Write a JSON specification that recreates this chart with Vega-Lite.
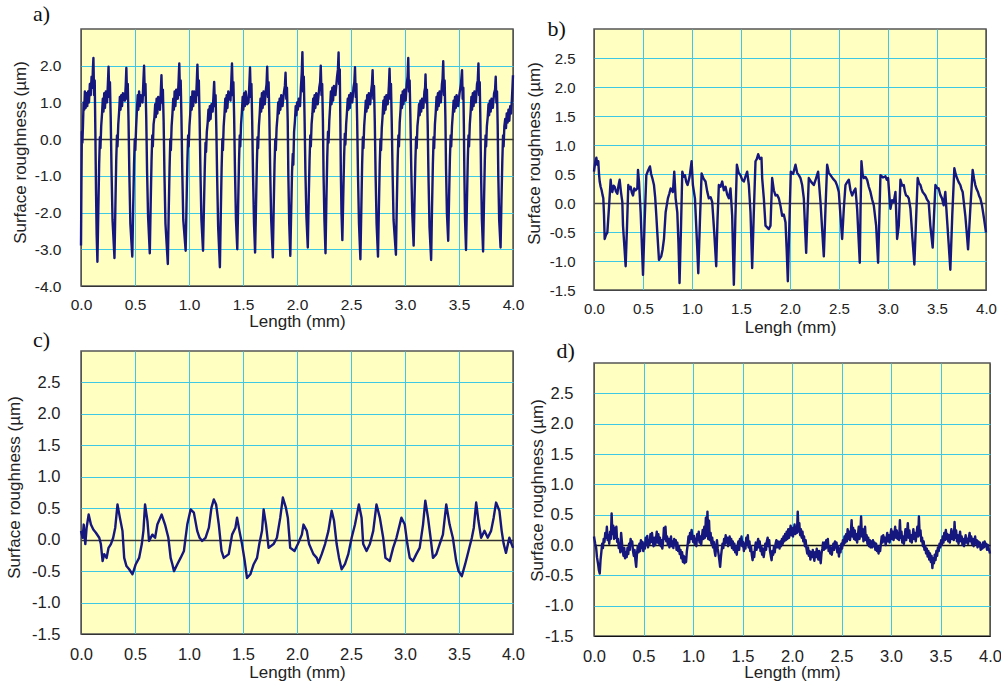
{
"$schema": "https://vega.github.io/schema/vega-lite/v6.json",
"padding": {"left": 4, "top": 1, "right": 4, "bottom": 0},
"config": {
  "view": {"fill": "#FFFFC2", "stroke": "#555555", "strokeWidth": 1.5},
  "axis": {"ticks": false, "domain": false, "grid": true, "labelFlush": false, "labelOverlap": false, "labelFont": "Liberation Sans", "labelColor": "#222222", "titleFont": "Liberation Sans", "titleFontSize": 17, "titleFontWeight": "normal", "titleColor": "#222222", "gridOpacity": 1},
  "title": {"font": "Liberation Serif", "fontSize": 22, "fontWeight": "normal", "anchor": "start", "frame": "group", "baseline": "alphabetic", "color": "#111111"}
},
"datasets": {
"a": [
{"x":0.000,"y":-2.9},{"x":0.004,"y":-1.2},{"x":0.008,"y":0.2},{"x":0.013,"y":-0.1},{"x":0.018,"y":0.35},{"x":0.024,"y":1.0},{"x":0.030,"y":0.8},{"x":0.036,"y":1.3},{"x":0.043,"y":0.85},{"x":0.050,"y":1.25},{"x":0.058,"y":0.9},{"x":0.066,"y":1.3},{"x":0.074,"y":1.0},{"x":0.082,"y":1.5},{"x":0.090,"y":1.2},{"x":0.098,"y":1.7},{"x":0.105,"y":1.4},{"x":0.110,"y":1.9},{"x":0.115,"y":2.21},{"x":0.121,"y":1.2},{"x":0.127,"y":1.6},{"x":0.133,"y":0.2},{"x":0.139,"y":-1.4},{"x":0.145,"y":-2.6},{"x":0.152,"y":-3.34},
{"x":0.160,"y":-2.0},{"x":0.168,"y":-0.7},{"x":0.175,"y":0.05},{"x":0.180,"y":-0.25},{"x":0.187,"y":0.35},{"x":0.195,"y":0.7},{"x":0.202,"y":1.1},{"x":0.208,"y":0.75},{"x":0.215,"y":1.25},{"x":0.222,"y":0.85},{"x":0.230,"y":1.3},{"x":0.241,"y":1.0},{"x":0.249,"y":1.5},{"x":0.255,"y":1.97},{"x":0.262,"y":1.15},{"x":0.268,"y":1.55},{"x":0.275,"y":0.6},{"x":0.283,"y":-0.9},{"x":0.292,"y":-2.2},{"x":0.310,"y":-3.24},
{"x":0.318,"y":-1.9},{"x":0.326,"y":-0.6},{"x":0.333,"y":0.1},{"x":0.338,"y":-0.2},{"x":0.345,"y":0.4},{"x":0.353,"y":0.75},{"x":0.360,"y":1.15},{"x":0.366,"y":0.8},{"x":0.373,"y":1.2},{"x":0.380,"y":0.9},{"x":0.388,"y":1.25},{"x":0.406,"y":1.05},{"x":0.414,"y":1.45},{"x":0.420,"y":1.94},{"x":0.427,"y":1.1},{"x":0.433,"y":1.5},{"x":0.440,"y":0.5},{"x":0.448,"y":-1.0},{"x":0.457,"y":-2.3},{"x":0.475,"y":-3.20},
{"x":0.483,"y":-1.9},{"x":0.491,"y":-0.7},{"x":0.498,"y":0.0},{"x":0.503,"y":-0.3},{"x":0.510,"y":0.3},{"x":0.518,"y":0.8},{"x":0.525,"y":1.2},{"x":0.531,"y":0.8},{"x":0.538,"y":1.3},{"x":0.545,"y":0.9},{"x":0.553,"y":1.2},{"x":0.570,"y":1.0},{"x":0.578,"y":1.6},{"x":0.584,"y":2.00},{"x":0.591,"y":1.2},{"x":0.597,"y":1.5},{"x":0.604,"y":0.6},{"x":0.612,"y":-0.9},{"x":0.621,"y":-2.1},{"x":0.637,"y":-3.11},
{"x":0.645,"y":-1.8},{"x":0.653,"y":-0.6},{"x":0.660,"y":0.1},{"x":0.665,"y":-0.2},{"x":0.672,"y":0.4},{"x":0.680,"y":0.6},{"x":0.687,"y":0.95},{"x":0.693,"y":0.6},{"x":0.700,"y":1.1},{"x":0.707,"y":0.7},{"x":0.715,"y":1.15},{"x":0.731,"y":0.8},{"x":0.739,"y":1.3},{"x":0.745,"y":1.74},{"x":0.752,"y":1.0},{"x":0.758,"y":1.35},{"x":0.765,"y":0.5},{"x":0.773,"y":-1.0},{"x":0.782,"y":-2.3},{"x":0.804,"y":-3.40},
{"x":0.812,"y":-2.0},{"x":0.820,"y":-0.8},{"x":0.827,"y":0.0},{"x":0.832,"y":-0.3},{"x":0.839,"y":0.35},{"x":0.847,"y":0.7},{"x":0.854,"y":1.1},{"x":0.860,"y":0.8},{"x":0.867,"y":1.3},{"x":0.874,"y":0.9},{"x":0.882,"y":1.35},{"x":0.896,"y":1.1},{"x":0.904,"y":1.6},{"x":0.910,"y":2.06},{"x":0.917,"y":1.2},{"x":0.923,"y":1.6},{"x":0.930,"y":0.6},{"x":0.938,"y":-0.9},{"x":0.947,"y":-2.2},{"x":0.969,"y":-3.04},
{"x":0.977,"y":-1.8},{"x":0.985,"y":-0.6},{"x":0.992,"y":0.1},{"x":0.997,"y":-0.2},{"x":1.004,"y":0.35},{"x":1.012,"y":0.7},{"x":1.019,"y":1.15},{"x":1.025,"y":0.8},{"x":1.032,"y":1.3},{"x":1.039,"y":0.9},{"x":1.047,"y":1.3},{"x":1.064,"y":1.0},{"x":1.072,"y":1.55},{"x":1.078,"y":2.03},{"x":1.085,"y":1.2},{"x":1.091,"y":1.6},{"x":1.098,"y":0.6},{"x":1.106,"y":-0.9},{"x":1.115,"y":-2.2},{"x":1.130,"y":-3.04},
{"x":1.138,"y":-1.9},{"x":1.146,"y":-0.8},{"x":1.153,"y":-0.1},{"x":1.158,"y":-0.35},{"x":1.165,"y":0.2},{"x":1.173,"y":0.45},{"x":1.180,"y":0.8},{"x":1.186,"y":0.5},{"x":1.193,"y":0.9},{"x":1.200,"y":0.55},{"x":1.208,"y":0.95},{"x":1.219,"y":0.75},{"x":1.227,"y":1.2},{"x":1.233,"y":1.56},{"x":1.240,"y":0.9},{"x":1.246,"y":1.2},{"x":1.253,"y":0.3},{"x":1.261,"y":-1.1},{"x":1.270,"y":-2.4},{"x":1.286,"y":-3.49},
{"x":1.294,"y":-2.1},{"x":1.302,"y":-0.8},{"x":1.309,"y":0.0},{"x":1.314,"y":-0.3},{"x":1.321,"y":0.35},{"x":1.329,"y":0.7},{"x":1.336,"y":1.1},{"x":1.342,"y":0.75},{"x":1.349,"y":1.2},{"x":1.356,"y":0.85},{"x":1.364,"y":1.3},{"x":1.384,"y":1.05},{"x":1.392,"y":1.6},{"x":1.398,"y":2.06},{"x":1.405,"y":1.2},{"x":1.411,"y":1.55},{"x":1.418,"y":0.6},{"x":1.426,"y":-0.9},{"x":1.435,"y":-2.2},{"x":1.447,"y":-3.00},
{"x":1.455,"y":-1.8},{"x":1.463,"y":-0.6},{"x":1.470,"y":0.1},{"x":1.475,"y":-0.2},{"x":1.482,"y":0.4},{"x":1.490,"y":0.75},{"x":1.497,"y":1.15},{"x":1.503,"y":0.8},{"x":1.510,"y":1.25},{"x":1.517,"y":0.9},{"x":1.525,"y":1.3},{"x":1.538,"y":0.95},{"x":1.551,"y":1.0},{"x":1.559,"y":1.5},{"x":1.565,"y":1.95},{"x":1.572,"y":1.15},{"x":1.578,"y":1.5},{"x":1.585,"y":0.5},{"x":1.593,"y":-1.0},{"x":1.602,"y":-2.3},{"x":1.612,"y":-3.09},
{"x":1.620,"y":-1.9},{"x":1.628,"y":-0.7},{"x":1.635,"y":0.05},{"x":1.640,"y":-0.25},{"x":1.647,"y":0.35},{"x":1.655,"y":0.7},{"x":1.662,"y":1.1},{"x":1.668,"y":0.75},{"x":1.675,"y":1.25},{"x":1.682,"y":0.85},{"x":1.690,"y":1.3},{"x":1.702,"y":0.95},{"x":1.710,"y":1.3},{"x":1.718,"y":1.5},{"x":1.724,"y":1.97},{"x":1.731,"y":1.15},{"x":1.737,"y":1.55},{"x":1.744,"y":0.6},{"x":1.752,"y":-0.9},{"x":1.761,"y":-2.2},{"x":1.776,"y":-3.22},
{"x":1.784,"y":-1.9},{"x":1.792,"y":-0.7},{"x":1.799,"y":0.0},{"x":1.804,"y":-0.3},{"x":1.811,"y":0.3},{"x":1.819,"y":0.6},{"x":1.826,"y":1.0},{"x":1.832,"y":0.7},{"x":1.839,"y":1.1},{"x":1.846,"y":0.8},{"x":1.854,"y":1.2},{"x":1.866,"y":0.9},{"x":1.880,"y":1.3},{"x":1.888,"y":1.45},{"x":1.894,"y":1.81},{"x":1.901,"y":1.1},{"x":1.907,"y":1.4},{"x":1.914,"y":0.5},{"x":1.920,"y":-1.0},{"x":1.928,"y":-2.3},{"x":1.938,"y":-3.18},
{"x":1.946,"y":-2.0},{"x":1.954,"y":-0.9},{"x":1.961,"y":-0.4},{"x":1.966,"y":-0.7},{"x":1.973,"y":0.2},{"x":1.981,"y":0.5},{"x":1.988,"y":0.9},{"x":1.994,"y":0.65},{"x":2.001,"y":1.0},{"x":2.008,"y":0.8},{"x":2.016,"y":1.1},{"x":2.028,"y":0.9},{"x":2.036,"y":1.4},{"x":2.044,"y":1.8},{"x":2.050,"y":2.37},{"x":2.057,"y":1.3},{"x":2.063,"y":1.7},{"x":2.070,"y":0.6},{"x":2.078,"y":-0.9},{"x":2.087,"y":-2.1},{"x":2.100,"y":-2.95},
{"x":2.108,"y":-1.7},{"x":2.116,"y":-0.6},{"x":2.123,"y":0.1},{"x":2.128,"y":-0.2},{"x":2.135,"y":0.4},{"x":2.143,"y":0.7},{"x":2.150,"y":1.1},{"x":2.156,"y":0.75},{"x":2.163,"y":1.2},{"x":2.170,"y":0.85},{"x":2.178,"y":1.25},{"x":2.192,"y":0.95},{"x":2.206,"y":1.4},{"x":2.214,"y":1.55},{"x":2.220,"y":2.00},{"x":2.227,"y":1.2},{"x":2.233,"y":1.5},{"x":2.240,"y":0.5},{"x":2.246,"y":-1.0},{"x":2.254,"y":-2.2},{"x":2.264,"y":-3.11},
{"x":2.272,"y":-1.7},{"x":2.280,"y":-0.5},{"x":2.287,"y":0.2},{"x":2.292,"y":-0.1},{"x":2.299,"y":0.5},{"x":2.307,"y":0.9},{"x":2.314,"y":1.3},{"x":2.320,"y":0.95},{"x":2.327,"y":1.4},{"x":2.334,"y":1.05},{"x":2.342,"y":1.45},{"x":2.356,"y":1.2},{"x":2.371,"y":1.7},{"x":2.379,"y":1.9},{"x":2.385,"y":2.36},{"x":2.390,"y":1.5},{"x":2.396,"y":1.9},{"x":2.401,"y":0.6},{"x":2.406,"y":-0.9},{"x":2.412,"y":-2.0},{"x":2.420,"y":-2.75},
{"x":2.428,"y":-1.6},{"x":2.436,"y":-0.5},{"x":2.443,"y":0.15},{"x":2.448,"y":-0.15},{"x":2.455,"y":0.4},{"x":2.463,"y":0.75},{"x":2.470,"y":1.1},{"x":2.476,"y":0.8},{"x":2.483,"y":1.2},{"x":2.490,"y":0.85},{"x":2.498,"y":1.25},{"x":2.512,"y":1.0},{"x":2.523,"y":1.4},{"x":2.531,"y":1.55},{"x":2.537,"y":1.96},{"x":2.544,"y":1.15},{"x":2.550,"y":1.5},{"x":2.557,"y":0.5},{"x":2.565,"y":-1.0},{"x":2.574,"y":-2.3},{"x":2.587,"y":-3.27},
{"x":2.595,"y":-2.0},{"x":2.603,"y":-0.7},{"x":2.610,"y":0.05},{"x":2.615,"y":-0.25},{"x":2.622,"y":0.35},{"x":2.630,"y":0.7},{"x":2.637,"y":1.05},{"x":2.643,"y":0.75},{"x":2.650,"y":1.2},{"x":2.657,"y":0.85},{"x":2.665,"y":1.25},{"x":2.678,"y":0.95},{"x":2.688,"y":1.35},{"x":2.694,"y":1.5},{"x":2.700,"y":1.88},{"x":2.707,"y":1.1},{"x":2.713,"y":1.45},{"x":2.720,"y":0.5},{"x":2.728,"y":-1.0},{"x":2.737,"y":-2.3},{"x":2.750,"y":-3.20},
{"x":2.758,"y":-1.9},{"x":2.766,"y":-0.7},{"x":2.773,"y":0.0},{"x":2.778,"y":-0.3},{"x":2.785,"y":0.3},{"x":2.793,"y":0.65},{"x":2.800,"y":1.05},{"x":2.806,"y":0.7},{"x":2.813,"y":1.15},{"x":2.820,"y":0.8},{"x":2.828,"y":1.2},{"x":2.840,"y":0.95},{"x":2.851,"y":1.45},{"x":2.857,"y":1.92},{"x":2.864,"y":1.1},{"x":2.870,"y":1.5},{"x":2.877,"y":0.5},{"x":2.885,"y":-0.9},{"x":2.894,"y":-2.2},{"x":2.916,"y":-3.15},
{"x":2.924,"y":-1.8},{"x":2.932,"y":-0.6},{"x":2.939,"y":0.1},{"x":2.944,"y":-0.2},{"x":2.951,"y":0.45},{"x":2.959,"y":0.8},{"x":2.966,"y":1.2},{"x":2.972,"y":0.85},{"x":2.979,"y":1.3},{"x":2.986,"y":0.95},{"x":2.994,"y":1.35},{"x":3.006,"y":1.05},{"x":3.016,"y":1.5},{"x":3.024,"y":1.7},{"x":3.030,"y":2.21},{"x":3.037,"y":1.3},{"x":3.043,"y":1.6},{"x":3.050,"y":0.6},{"x":3.058,"y":-0.8},{"x":3.067,"y":-2.0},{"x":3.080,"y":-2.90},
{"x":3.088,"y":-1.7},{"x":3.096,"y":-0.6},{"x":3.103,"y":0.05},{"x":3.108,"y":-0.25},{"x":3.115,"y":0.35},{"x":3.123,"y":0.6},{"x":3.130,"y":0.95},{"x":3.136,"y":0.65},{"x":3.143,"y":1.05},{"x":3.150,"y":0.75},{"x":3.158,"y":1.1},{"x":3.170,"y":0.85},{"x":3.180,"y":1.3},{"x":3.186,"y":1.4},{"x":3.190,"y":1.76},{"x":3.197,"y":1.0},{"x":3.203,"y":1.35},{"x":3.210,"y":0.4},{"x":3.218,"y":-1.1},{"x":3.227,"y":-2.4},{"x":3.242,"y":-3.29},
{"x":3.250,"y":-1.9},{"x":3.258,"y":-0.7},{"x":3.265,"y":0.05},{"x":3.270,"y":-0.25},{"x":3.277,"y":0.4},{"x":3.285,"y":0.75},{"x":3.292,"y":1.15},{"x":3.298,"y":0.8},{"x":3.305,"y":1.25},{"x":3.312,"y":0.9},{"x":3.320,"y":1.3},{"x":3.332,"y":1.0},{"x":3.342,"y":1.5},{"x":3.348,"y":1.65},{"x":3.354,"y":2.12},{"x":3.361,"y":1.2},{"x":3.367,"y":1.6},{"x":3.374,"y":0.6},{"x":3.380,"y":-0.8},{"x":3.388,"y":-2.0},{"x":3.400,"y":-2.77},
{"x":3.408,"y":-1.6},{"x":3.416,"y":-0.5},{"x":3.423,"y":0.1},{"x":3.428,"y":-0.2},{"x":3.435,"y":0.35},{"x":3.443,"y":0.7},{"x":3.450,"y":1.05},{"x":3.456,"y":0.75},{"x":3.463,"y":1.15},{"x":3.470,"y":0.85},{"x":3.478,"y":1.2},{"x":3.492,"y":0.9},{"x":3.505,"y":1.25},{"x":3.518,"y":1.5},{"x":3.528,"y":1.88},{"x":3.534,"y":1.1},{"x":3.540,"y":1.4},{"x":3.545,"y":0.4},{"x":3.550,"y":-1.0},{"x":3.556,"y":-2.2},{"x":3.565,"y":-3.02},
{"x":3.573,"y":-1.8},{"x":3.581,"y":-0.6},{"x":3.588,"y":0.1},{"x":3.593,"y":-0.2},{"x":3.600,"y":0.4},{"x":3.608,"y":0.75},{"x":3.615,"y":1.15},{"x":3.621,"y":0.8},{"x":3.628,"y":1.25},{"x":3.635,"y":0.9},{"x":3.643,"y":1.3},{"x":3.656,"y":1.0},{"x":3.667,"y":1.5},{"x":3.674,"y":1.6},{"x":3.680,"y":2.06},{"x":3.686,"y":1.2},{"x":3.692,"y":1.55},{"x":3.698,"y":0.5},{"x":3.704,"y":-0.9},{"x":3.712,"y":-2.2},{"x":3.723,"y":-3.06},
{"x":3.731,"y":-1.8},{"x":3.739,"y":-0.6},{"x":3.746,"y":0.1},{"x":3.751,"y":-0.2},{"x":3.758,"y":0.35},{"x":3.766,"y":0.6},{"x":3.773,"y":0.95},{"x":3.779,"y":0.65},{"x":3.786,"y":1.05},{"x":3.793,"y":0.75},{"x":3.801,"y":1.1},{"x":3.813,"y":0.85},{"x":3.825,"y":1.25},{"x":3.834,"y":1.35},{"x":3.840,"y":1.70},{"x":3.846,"y":1.0},{"x":3.852,"y":1.3},{"x":3.858,"y":0.4},{"x":3.864,"y":-1.0},{"x":3.872,"y":-2.2},{"x":3.885,"y":-2.95},
{"x":3.893,"y":-1.7},{"x":3.901,"y":-0.6},{"x":3.908,"y":0.1},{"x":3.913,"y":-0.2},{"x":3.920,"y":0.35},{"x":3.928,"y":0.55},{"x":3.935,"y":0.3},{"x":3.942,"y":0.7},{"x":3.950,"y":0.45},{"x":3.958,"y":0.8},{"x":3.966,"y":0.5},{"x":3.974,"y":0.9},{"x":3.982,"y":0.7},{"x":3.990,"y":1.1},{"x":3.995,"y":1.4},{"x":4.000,"y":1.74}
],
"b": [
{"x":0.000,"y":0.54},{"x":0.012,"y":0.70},{"x":0.024,"y":0.78},{"x":0.034,"y":0.66},{"x":0.044,"y":0.72},{"x":0.051,"y":0.50},{"x":0.058,"y":0.37},{"x":0.068,"y":0.28},{"x":0.078,"y":0.22},{"x":0.087,"y":0.14},{"x":0.095,"y":0.08},{"x":0.102,"y":-0.20},{"x":0.109,"y":-0.62},{"x":0.122,"y":-0.55},{"x":0.136,"y":-0.51},{"x":0.152,"y":-0.10},{"x":0.170,"y":0.40},{"x":0.178,"y":0.24},{"x":0.187,"y":0.19},{"x":0.199,"y":0.30},{"x":0.211,"y":0.28},{"x":0.224,"y":0.20},{"x":0.238,"y":0.16},{"x":0.250,"y":0.30},{"x":0.262,"y":0.40},{"x":0.276,"y":0.18},{"x":0.289,"y":0.02},{"x":0.296,"y":-0.39},{"x":0.310,"y":-0.75},{"x":0.323,"y":-1.09},{"x":0.337,"y":-0.40},{"x":0.350,"y":0.31},{"x":0.362,"y":0.24},{"x":0.374,"y":0.28},{"x":0.386,"y":0.18},{"x":0.398,"y":0.13},{"x":0.411,"y":0.25},{"x":0.425,"y":0.22},{"x":0.442,"y":0.25},{"x":0.449,"y":0.57},{"x":0.459,"y":0.37},{"x":0.476,"y":-0.16},{"x":0.488,"y":-0.70},{"x":0.500,"y":-1.24},{"x":0.517,"y":-0.30},{"x":0.534,"y":0.48},{"x":0.552,"y":0.56},{"x":0.571,"y":0.63},{"x":0.583,"y":0.50},{"x":0.595,"y":0.43},{"x":0.612,"y":0.31},{"x":0.624,"y":0.10},{"x":0.636,"y":-0.22},{"x":0.646,"y":-0.51},{"x":0.663,"y":-0.98},{"x":0.686,"y":-0.92},{"x":0.700,"y":-0.80},{"x":0.714,"y":-0.62},{"x":0.731,"y":-0.16},{"x":0.754,"y":0.08},{"x":0.768,"y":0.16},{"x":0.782,"y":0.25},{"x":0.805,"y":0.19},{"x":0.819,"y":0.54},{"x":0.833,"y":0.08},{"x":0.850,"y":-0.16},{"x":0.862,"y":-0.70},{"x":0.873,"y":-1.38},{"x":0.888,"y":-0.40},{"x":0.901,"y":0.54},{"x":0.915,"y":0.45},{"x":0.928,"y":0.48},{"x":0.942,"y":0.36},{"x":0.955,"y":0.31},{"x":0.975,"y":0.45},{"x":0.996,"y":0.72},{"x":1.009,"y":0.31},{"x":1.030,"y":0.08},{"x":1.043,"y":-0.39},{"x":1.054,"y":-0.80},{"x":1.064,"y":-1.21},{"x":1.081,"y":-0.30},{"x":1.098,"y":0.51},{"x":1.118,"y":0.42},{"x":1.138,"y":0.37},{"x":1.155,"y":0.20},{"x":1.172,"y":0.08},{"x":1.190,"y":0.10},{"x":1.206,"y":0.02},{"x":1.227,"y":-0.51},{"x":1.247,"y":-1.09},{"x":1.260,"y":-0.30},{"x":1.274,"y":0.31},{"x":1.291,"y":0.28},{"x":1.308,"y":0.37},{"x":1.325,"y":0.22},{"x":1.342,"y":0.28},{"x":1.360,"y":0.14},{"x":1.376,"y":0.08},{"x":1.393,"y":0.25},{"x":1.410,"y":-0.22},{"x":1.418,"y":-0.80},{"x":1.427,"y":-1.41},{"x":1.442,"y":-0.30},{"x":1.458,"y":0.66},{"x":1.476,"y":0.52},{"x":1.495,"y":0.48},{"x":1.512,"y":0.40},{"x":1.529,"y":0.37},{"x":1.546,"y":0.46},{"x":1.563,"y":0.54},{"x":1.580,"y":0.31},{"x":1.597,"y":-0.16},{"x":1.605,"y":-0.60},{"x":1.614,"y":-1.12},{"x":1.630,"y":-0.20},{"x":1.648,"y":0.72},{"x":1.662,"y":0.76},{"x":1.675,"y":0.84},{"x":1.692,"y":0.76},{"x":1.709,"y":0.78},{"x":1.716,"y":0.43},{"x":1.733,"y":0.08},{"x":1.750,"y":-0.39},{"x":1.767,"y":-0.42},{"x":1.784,"y":-0.45},{"x":1.801,"y":-0.39},{"x":1.818,"y":0.43},{"x":1.835,"y":0.22},{"x":1.852,"y":0.13},{"x":1.869,"y":0.14},{"x":1.886,"y":0.08},{"x":1.903,"y":-0.05},{"x":1.920,"y":-0.22},{"x":1.937,"y":-0.20},{"x":1.954,"y":-0.33},{"x":1.966,"y":-0.80},{"x":1.978,"y":-1.35},{"x":1.993,"y":-0.40},{"x":2.008,"y":0.54},{"x":2.032,"y":0.50},{"x":2.056,"y":0.66},{"x":2.073,"y":0.52},{"x":2.090,"y":0.48},{"x":2.107,"y":0.43},{"x":2.124,"y":0.31},{"x":2.141,"y":0.08},{"x":2.153,"y":-0.40},{"x":2.165,"y":-0.86},{"x":2.178,"y":-0.20},{"x":2.192,"y":0.43},{"x":2.218,"y":0.36},{"x":2.243,"y":0.31},{"x":2.265,"y":0.42},{"x":2.287,"y":0.54},{"x":2.311,"y":0.02},{"x":2.328,"y":-0.45},{"x":2.345,"y":-0.92},{"x":2.362,"y":-0.10},{"x":2.379,"y":0.66},{"x":2.396,"y":0.52},{"x":2.413,"y":0.48},{"x":2.438,"y":0.42},{"x":2.464,"y":0.37},{"x":2.481,"y":0.30},{"x":2.498,"y":0.19},{"x":2.515,"y":-0.22},{"x":2.532,"y":-0.62},{"x":2.549,"y":-0.10},{"x":2.566,"y":0.31},{"x":2.583,"y":0.36},{"x":2.600,"y":0.40},{"x":2.617,"y":0.22},{"x":2.634,"y":0.13},{"x":2.651,"y":0.20},{"x":2.668,"y":0.25},{"x":2.685,"y":-0.10},{"x":2.698,"y":-0.55},{"x":2.712,"y":-1.03},{"x":2.720,"y":-0.10},{"x":2.729,"y":0.72},{"x":2.741,"y":0.50},{"x":2.753,"y":0.43},{"x":2.770,"y":0.45},{"x":2.787,"y":0.40},{"x":2.804,"y":0.28},{"x":2.821,"y":0.19},{"x":2.838,"y":0.06},{"x":2.855,"y":-0.04},{"x":2.879,"y":-0.39},{"x":2.899,"y":-1.03},{"x":2.911,"y":-0.30},{"x":2.923,"y":0.48},{"x":2.948,"y":0.44},{"x":2.974,"y":0.46},{"x":2.988,"y":0.40},{"x":3.001,"y":0.43},{"x":3.013,"y":0.15},{"x":3.025,"y":-0.10},{"x":3.042,"y":0.05},{"x":3.059,"y":0.02},{"x":3.076,"y":0.19},{"x":3.086,"y":-0.27},{"x":3.093,"y":-0.62},{"x":3.110,"y":-0.39},{"x":3.127,"y":0.40},{"x":3.144,"y":0.30},{"x":3.161,"y":0.31},{"x":3.172,"y":0.20},{"x":3.184,"y":0.13},{"x":3.198,"y":0.12},{"x":3.212,"y":0.08},{"x":3.229,"y":-0.10},{"x":3.249,"y":-0.60},{"x":3.269,"y":-1.06},{"x":3.286,"y":-0.30},{"x":3.303,"y":0.43},{"x":3.317,"y":0.34},{"x":3.331,"y":0.31},{"x":3.343,"y":0.24},{"x":3.354,"y":0.19},{"x":3.368,"y":0.16},{"x":3.381,"y":0.13},{"x":3.398,"y":0.06},{"x":3.415,"y":0.02},{"x":3.432,"y":-0.39},{"x":3.456,"y":-0.77},{"x":3.470,"y":-0.20},{"x":3.484,"y":0.31},{"x":3.500,"y":0.26},{"x":3.517,"y":0.25},{"x":3.534,"y":0.14},{"x":3.551,"y":0.08},{"x":3.568,"y":-0.04},{"x":3.585,"y":0.19},{"x":3.602,"y":-0.27},{"x":3.619,"y":-0.70},{"x":3.636,"y":-1.15},{"x":3.656,"y":-0.20},{"x":3.677,"y":0.60},{"x":3.690,"y":0.50},{"x":3.704,"y":0.43},{"x":3.721,"y":0.36},{"x":3.738,"y":0.31},{"x":3.750,"y":0.24},{"x":3.762,"y":0.19},{"x":3.789,"y":-0.22},{"x":3.803,"y":-0.50},{"x":3.817,"y":-0.80},{"x":3.840,"y":-0.10},{"x":3.864,"y":0.57},{"x":3.878,"y":0.42},{"x":3.891,"y":0.31},{"x":3.904,"y":0.24},{"x":3.918,"y":0.19},{"x":3.930,"y":0.12},{"x":3.942,"y":0.08},{"x":3.959,"y":-0.04},{"x":3.980,"y":-0.27},{"x":4.000,"y":-0.51}
],
"c": [
{"x":0.000,"y":0.14},{"x":0.015,"y":0.03},{"x":0.025,"y":0.24},{"x":0.040,"y":-0.07},{"x":0.052,"y":0.19},{"x":0.071,"y":0.40},{"x":0.092,"y":0.24},{"x":0.114,"y":0.16},{"x":0.138,"y":0.11},{"x":0.169,"y":0.03},{"x":0.184,"y":-0.07},{"x":0.200,"y":-0.34},{"x":0.215,"y":-0.23},{"x":0.237,"y":-0.29},{"x":0.255,"y":-0.13},{"x":0.277,"y":-0.07},{"x":0.298,"y":0.03},{"x":0.317,"y":0.19},{"x":0.338,"y":0.56},{"x":0.360,"y":0.35},{"x":0.384,"y":0.14},{"x":0.400,"y":-0.29},{"x":0.421,"y":-0.42},{"x":0.446,"y":-0.47},{"x":0.477,"y":-0.55},{"x":0.507,"y":-0.39},{"x":0.538,"y":-0.29},{"x":0.563,"y":-0.07},{"x":0.578,"y":0.14},{"x":0.593,"y":0.56},{"x":0.615,"y":0.30},{"x":0.630,"y":-0.02},{"x":0.661,"y":0.08},{"x":0.686,"y":0.03},{"x":0.707,"y":0.24},{"x":0.747,"y":0.40},{"x":0.778,"y":0.24},{"x":0.809,"y":0.03},{"x":0.830,"y":-0.29},{"x":0.846,"y":-0.39},{"x":0.861,"y":-0.50},{"x":0.892,"y":-0.39},{"x":0.922,"y":-0.29},{"x":0.953,"y":-0.18},{"x":0.968,"y":0.03},{"x":0.984,"y":0.24},{"x":1.015,"y":0.48},{"x":1.045,"y":0.43},{"x":1.076,"y":0.14},{"x":1.098,"y":0.03},{"x":1.122,"y":-0.02},{"x":1.153,"y":0.03},{"x":1.184,"y":0.19},{"x":1.208,"y":0.51},{"x":1.230,"y":0.64},{"x":1.251,"y":0.56},{"x":1.276,"y":0.24},{"x":1.301,"y":-0.18},{"x":1.322,"y":-0.29},{"x":1.368,"y":-0.23},{"x":1.399,"y":0.08},{"x":1.430,"y":0.19},{"x":1.445,"y":0.35},{"x":1.467,"y":0.14},{"x":1.491,"y":-0.07},{"x":1.516,"y":-0.34},{"x":1.537,"y":-0.61},{"x":1.568,"y":-0.55},{"x":1.599,"y":-0.39},{"x":1.630,"y":-0.29},{"x":1.651,"y":-0.07},{"x":1.676,"y":0.14},{"x":1.691,"y":0.48},{"x":1.713,"y":0.24},{"x":1.737,"y":-0.13},{"x":1.783,"y":-0.07},{"x":1.814,"y":0.03},{"x":1.845,"y":0.35},{"x":1.869,"y":0.67},{"x":1.897,"y":0.51},{"x":1.915,"y":0.35},{"x":1.937,"y":-0.13},{"x":1.977,"y":-0.18},{"x":2.008,"y":-0.07},{"x":2.045,"y":0.08},{"x":2.060,"y":0.24},{"x":2.091,"y":0.14},{"x":2.112,"y":-0.07},{"x":2.152,"y":-0.23},{"x":2.183,"y":-0.29},{"x":2.198,"y":-0.37},{"x":2.229,"y":-0.23},{"x":2.260,"y":-0.07},{"x":2.291,"y":0.14},{"x":2.321,"y":0.46},{"x":2.343,"y":0.30},{"x":2.367,"y":-0.07},{"x":2.389,"y":-0.29},{"x":2.413,"y":-0.47},{"x":2.444,"y":-0.39},{"x":2.475,"y":-0.23},{"x":2.506,"y":0.03},{"x":2.537,"y":0.24},{"x":2.573,"y":0.56},{"x":2.598,"y":0.35},{"x":2.613,"y":-0.07},{"x":2.644,"y":-0.18},{"x":2.675,"y":-0.07},{"x":2.706,"y":0.14},{"x":2.736,"y":0.56},{"x":2.767,"y":0.35},{"x":2.798,"y":0.03},{"x":2.819,"y":-0.29},{"x":2.859,"y":-0.34},{"x":2.890,"y":-0.13},{"x":2.921,"y":0.03},{"x":2.967,"y":0.35},{"x":2.998,"y":0.24},{"x":3.022,"y":-0.07},{"x":3.044,"y":-0.29},{"x":3.074,"y":-0.34},{"x":3.105,"y":-0.23},{"x":3.136,"y":-0.13},{"x":3.167,"y":0.24},{"x":3.188,"y":0.62},{"x":3.213,"y":0.35},{"x":3.237,"y":0.03},{"x":3.259,"y":-0.29},{"x":3.290,"y":-0.23},{"x":3.321,"y":-0.07},{"x":3.351,"y":0.08},{"x":3.382,"y":0.56},{"x":3.413,"y":0.24},{"x":3.443,"y":0.03},{"x":3.474,"y":-0.34},{"x":3.496,"y":-0.50},{"x":3.526,"y":-0.58},{"x":3.557,"y":-0.39},{"x":3.588,"y":-0.18},{"x":3.619,"y":0.03},{"x":3.637,"y":0.19},{"x":3.659,"y":0.59},{"x":3.680,"y":0.30},{"x":3.705,"y":0.03},{"x":3.736,"y":0.14},{"x":3.766,"y":0.03},{"x":3.797,"y":0.14},{"x":3.821,"y":0.35},{"x":3.843,"y":0.59},{"x":3.874,"y":0.46},{"x":3.895,"y":0.14},{"x":3.914,"y":-0.07},{"x":3.935,"y":-0.21},{"x":3.966,"y":0.03},{"x":4.000,"y":-0.13}
],
"d": [
{"x":0.000,"y":0.14},{"x":0.012,"y":0.02},{"x":0.022,"y":-0.05},{"x":0.030,"y":-0.20},{"x":0.040,"y":-0.30},{"x":0.050,"y":-0.42},{"x":0.058,"y":-0.47},{"x":0.066,"y":-0.25},{"x":0.074,"y":-0.12},{"x":0.082,"y":0.02},{"x":0.090,"y":-0.05},{"x":0.098,"y":0.10},{"x":0.106,"y":0.05},{"x":0.114,"y":0.20},{"x":0.122,"y":0.12},{"x":0.130,"y":0.30},{"x":0.138,"y":0.08},{"x":0.146,"y":0.16},{"x":0.154,"y":0.02},{"x":0.162,"y":0.22},{"x":0.170,"y":0.10},{"x":0.178,"y":0.52},{"x":0.186,"y":0.18},{"x":0.194,"y":0.32},{"x":0.202,"y":0.10},{"x":0.210,"y":0.28},{"x":0.218,"y":0.12},{"x":0.226,"y":0.30},{"x":0.234,"y":0.05},{"x":0.242,"y":0.10},{"x":0.250,"y":-0.05},{"x":0.258,"y":0.02},{"x":0.266,"y":-0.12},{"x":0.274,"y":0.20},{"x":0.282,"y":0.05},{"x":0.290,"y":-0.10},{"x":0.298,"y":-0.18},{"x":0.306,"y":-0.05},{"x":0.314,"y":-0.22},{"x":0.322,"y":-0.12},{"x":0.330,"y":-0.20},{"x":0.338,"y":-0.05},{"x":0.346,"y":-0.15},{"x":0.354,"y":0.02},{"x":0.362,"y":-0.08},{"x":0.370,"y":0.10},{"x":0.378,"y":0.02},{"x":0.386,"y":0.06},{"x":0.394,"y":-0.10},{"x":0.402,"y":-0.18},{"x":0.410,"y":-0.08},{"x":0.418,"y":-0.25},{"x":0.426,"y":-0.36},{"x":0.434,"y":-0.15},{"x":0.442,"y":-0.02},{"x":0.450,"y":-0.12},{"x":0.458,"y":0.02},{"x":0.466,"y":-0.10},{"x":0.474,"y":0.08},{"x":0.482,"y":-0.05},{"x":0.490,"y":0.05},{"x":0.498,"y":-0.10},{"x":0.506,"y":0.02},{"x":0.514,"y":-0.06},{"x":0.522,"y":0.12},{"x":0.530,"y":0.00},{"x":0.538,"y":0.15},{"x":0.546,"y":-0.04},{"x":0.554,"y":0.08},{"x":0.562,"y":0.02},{"x":0.570,"y":0.18},{"x":0.578,"y":0.05},{"x":0.586,"y":0.20},{"x":0.594,"y":0.06},{"x":0.602,"y":-0.02},{"x":0.610,"y":0.12},{"x":0.618,"y":0.00},{"x":0.626,"y":0.10},{"x":0.634,"y":0.22},{"x":0.642,"y":0.04},{"x":0.650,"y":0.18},{"x":0.658,"y":0.02},{"x":0.666,"y":0.12},{"x":0.674,"y":-0.02},{"x":0.682,"y":0.08},{"x":0.690,"y":-0.06},{"x":0.698,"y":0.05},{"x":0.706,"y":0.28},{"x":0.714,"y":0.10},{"x":0.722,"y":0.30},{"x":0.730,"y":0.06},{"x":0.738,"y":0.14},{"x":0.746,"y":0.00},{"x":0.754,"y":0.10},{"x":0.762,"y":-0.04},{"x":0.770,"y":0.08},{"x":0.778,"y":0.14},{"x":0.786,"y":-0.02},{"x":0.794,"y":0.06},{"x":0.802,"y":-0.05},{"x":0.810,"y":0.10},{"x":0.818,"y":0.00},{"x":0.826,"y":0.08},{"x":0.834,"y":-0.08},{"x":0.842,"y":0.04},{"x":0.850,"y":-0.10},{"x":0.858,"y":-0.02},{"x":0.866,"y":-0.15},{"x":0.874,"y":-0.08},{"x":0.882,"y":-0.22},{"x":0.890,"y":-0.12},{"x":0.898,"y":-0.28},{"x":0.906,"y":-0.18},{"x":0.914,"y":-0.30},{"x":0.922,"y":-0.20},{"x":0.930,"y":-0.28},{"x":0.938,"y":-0.10},{"x":0.946,"y":0.00},{"x":0.954,"y":0.14},{"x":0.962,"y":0.04},{"x":0.970,"y":0.20},{"x":0.978,"y":0.10},{"x":0.986,"y":0.25},{"x":0.994,"y":0.12},{"x":1.002,"y":0.05},{"x":1.010,"y":0.15},{"x":1.018,"y":0.02},{"x":1.026,"y":0.10},{"x":1.034,"y":-0.02},{"x":1.042,"y":0.18},{"x":1.050,"y":0.08},{"x":1.058,"y":0.22},{"x":1.066,"y":0.04},{"x":1.074,"y":0.14},{"x":1.082,"y":0.00},{"x":1.090,"y":0.12},{"x":1.098,"y":0.25},{"x":1.106,"y":0.10},{"x":1.114,"y":0.30},{"x":1.122,"y":0.12},{"x":1.130,"y":0.45},{"x":1.138,"y":0.15},{"x":1.146,"y":0.55},{"x":1.154,"y":0.10},{"x":1.162,"y":0.40},{"x":1.170,"y":0.08},{"x":1.178,"y":0.20},{"x":1.186,"y":0.02},{"x":1.194,"y":0.12},{"x":1.202,"y":-0.04},{"x":1.210,"y":0.05},{"x":1.218,"y":-0.10},{"x":1.226,"y":-0.18},{"x":1.234,"y":-0.02},{"x":1.242,"y":0.08},{"x":1.250,"y":-0.06},{"x":1.258,"y":-0.15},{"x":1.266,"y":-0.25},{"x":1.274,"y":-0.36},{"x":1.282,"y":-0.20},{"x":1.290,"y":-0.08},{"x":1.298,"y":0.02},{"x":1.306,"y":-0.05},{"x":1.314,"y":0.10},{"x":1.322,"y":0.02},{"x":1.330,"y":0.16},{"x":1.338,"y":0.04},{"x":1.346,"y":0.12},{"x":1.354,"y":-0.02},{"x":1.362,"y":0.08},{"x":1.370,"y":0.14},{"x":1.378,"y":0.02},{"x":1.386,"y":0.10},{"x":1.394,"y":-0.05},{"x":1.402,"y":0.06},{"x":1.410,"y":-0.08},{"x":1.418,"y":0.02},{"x":1.426,"y":-0.12},{"x":1.434,"y":-0.04},{"x":1.442,"y":-0.16},{"x":1.450,"y":-0.02},{"x":1.458,"y":0.06},{"x":1.466,"y":-0.08},{"x":1.474,"y":0.10},{"x":1.482,"y":0.00},{"x":1.490,"y":0.14},{"x":1.498,"y":-0.02},{"x":1.506,"y":0.05},{"x":1.514,"y":-0.10},{"x":1.522,"y":0.02},{"x":1.530,"y":-0.06},{"x":1.538,"y":0.12},{"x":1.546,"y":0.02},{"x":1.554,"y":0.16},{"x":1.562,"y":-0.04},{"x":1.570,"y":0.06},{"x":1.578,"y":-0.10},{"x":1.586,"y":-0.02},{"x":1.594,"y":-0.16},{"x":1.602,"y":-0.25},{"x":1.610,"y":-0.12},{"x":1.618,"y":-0.20},{"x":1.626,"y":-0.05},{"x":1.634,"y":0.04},{"x":1.642,"y":-0.08},{"x":1.650,"y":0.02},{"x":1.658,"y":0.10},{"x":1.666,"y":-0.04},{"x":1.674,"y":0.06},{"x":1.682,"y":-0.10},{"x":1.690,"y":-0.02},{"x":1.698,"y":-0.16},{"x":1.706,"y":-0.06},{"x":1.714,"y":-0.20},{"x":1.722,"y":-0.10},{"x":1.730,"y":0.02},{"x":1.738,"y":-0.08},{"x":1.746,"y":0.06},{"x":1.754,"y":0.12},{"x":1.762,"y":-0.02},{"x":1.770,"y":0.08},{"x":1.778,"y":-0.10},{"x":1.786,"y":-0.18},{"x":1.794,"y":-0.25},{"x":1.802,"y":-0.10},{"x":1.810,"y":-0.16},{"x":1.818,"y":-0.02},{"x":1.826,"y":-0.12},{"x":1.834,"y":0.02},{"x":1.842,"y":0.08},{"x":1.850,"y":-0.04},{"x":1.858,"y":0.06},{"x":1.866,"y":0.02},{"x":1.874,"y":-0.06},{"x":1.882,"y":0.06},{"x":1.890,"y":-0.02},{"x":1.898,"y":0.10},{"x":1.906,"y":0.02},{"x":1.914,"y":0.14},{"x":1.922,"y":0.06},{"x":1.930,"y":0.18},{"x":1.938,"y":0.08},{"x":1.946,"y":0.22},{"x":1.954,"y":0.10},{"x":1.962,"y":0.26},{"x":1.970,"y":0.12},{"x":1.978,"y":0.20},{"x":1.986,"y":0.32},{"x":1.994,"y":0.16},{"x":2.002,"y":0.28},{"x":2.010,"y":0.14},{"x":2.018,"y":0.24},{"x":2.026,"y":0.34},{"x":2.034,"y":0.18},{"x":2.042,"y":0.30},{"x":2.050,"y":0.20},{"x":2.058,"y":0.55},{"x":2.066,"y":0.22},{"x":2.074,"y":0.36},{"x":2.082,"y":0.16},{"x":2.090,"y":0.26},{"x":2.098,"y":0.12},{"x":2.106,"y":0.22},{"x":2.114,"y":0.06},{"x":2.122,"y":0.14},{"x":2.130,"y":-0.02},{"x":2.138,"y":0.08},{"x":2.146,"y":-0.06},{"x":2.154,"y":-0.14},{"x":2.162,"y":-0.04},{"x":2.170,"y":-0.18},{"x":2.178,"y":-0.10},{"x":2.186,"y":-0.24},{"x":2.194,"y":-0.12},{"x":2.202,"y":-0.20},{"x":2.210,"y":-0.08},{"x":2.218,"y":-0.16},{"x":2.226,"y":-0.26},{"x":2.234,"y":-0.12},{"x":2.242,"y":-0.20},{"x":2.250,"y":-0.06},{"x":2.258,"y":-0.16},{"x":2.266,"y":-0.24},{"x":2.274,"y":-0.10},{"x":2.282,"y":-0.18},{"x":2.290,"y":-0.30},{"x":2.298,"y":-0.14},{"x":2.306,"y":-0.06},{"x":2.314,"y":0.04},{"x":2.322,"y":-0.08},{"x":2.330,"y":0.04},{"x":2.338,"y":-0.06},{"x":2.346,"y":0.08},{"x":2.354,"y":-0.04},{"x":2.362,"y":0.10},{"x":2.370,"y":-0.10},{"x":2.378,"y":-0.02},{"x":2.386,"y":-0.14},{"x":2.394,"y":-0.04},{"x":2.402,"y":-0.16},{"x":2.410,"y":-0.06},{"x":2.418,"y":0.02},{"x":2.426,"y":-0.08},{"x":2.434,"y":0.06},{"x":2.442,"y":-0.04},{"x":2.450,"y":0.04},{"x":2.458,"y":-0.12},{"x":2.466,"y":-0.02},{"x":2.474,"y":-0.19},{"x":2.482,"y":-0.06},{"x":2.490,"y":-0.12},{"x":2.498,"y":0.02},{"x":2.506,"y":-0.06},{"x":2.514,"y":0.08},{"x":2.522,"y":0.00},{"x":2.530,"y":0.14},{"x":2.538,"y":0.04},{"x":2.546,"y":0.18},{"x":2.554,"y":0.06},{"x":2.562,"y":0.26},{"x":2.570,"y":0.10},{"x":2.578,"y":0.22},{"x":2.586,"y":0.08},{"x":2.594,"y":0.20},{"x":2.602,"y":0.41},{"x":2.610,"y":0.14},{"x":2.618,"y":0.28},{"x":2.626,"y":0.10},{"x":2.634,"y":0.24},{"x":2.642,"y":0.08},{"x":2.650,"y":0.18},{"x":2.658,"y":0.04},{"x":2.666,"y":0.16},{"x":2.674,"y":0.30},{"x":2.682,"y":0.10},{"x":2.690,"y":0.20},{"x":2.698,"y":0.47},{"x":2.706,"y":0.14},{"x":2.714,"y":0.26},{"x":2.722,"y":0.06},{"x":2.730,"y":0.18},{"x":2.738,"y":0.30},{"x":2.746,"y":0.08},{"x":2.754,"y":0.16},{"x":2.762,"y":0.02},{"x":2.770,"y":0.12},{"x":2.778,"y":-0.02},{"x":2.786,"y":0.08},{"x":2.794,"y":-0.04},{"x":2.802,"y":0.06},{"x":2.810,"y":-0.04},{"x":2.818,"y":0.08},{"x":2.826,"y":-0.02},{"x":2.834,"y":0.04},{"x":2.842,"y":-0.08},{"x":2.850,"y":0.02},{"x":2.858,"y":-0.10},{"x":2.866,"y":-0.02},{"x":2.874,"y":-0.14},{"x":2.882,"y":-0.04},{"x":2.890,"y":-0.10},{"x":2.898,"y":0.02},{"x":2.906,"y":0.14},{"x":2.914,"y":0.04},{"x":2.922,"y":0.16},{"x":2.930,"y":0.06},{"x":2.938,"y":0.12},{"x":2.946,"y":0.00},{"x":2.954,"y":0.10},{"x":2.962,"y":0.20},{"x":2.970,"y":0.06},{"x":2.978,"y":0.16},{"x":2.986,"y":0.04},{"x":2.994,"y":0.14},{"x":3.002,"y":0.26},{"x":3.010,"y":0.10},{"x":3.018,"y":0.22},{"x":3.026,"y":0.08},{"x":3.034,"y":0.18},{"x":3.042,"y":0.30},{"x":3.050,"y":0.12},{"x":3.058,"y":0.24},{"x":3.066,"y":0.10},{"x":3.074,"y":0.20},{"x":3.082,"y":0.08},{"x":3.090,"y":0.41},{"x":3.098,"y":0.12},{"x":3.106,"y":0.22},{"x":3.114,"y":0.04},{"x":3.122,"y":0.14},{"x":3.130,"y":0.02},{"x":3.138,"y":0.12},{"x":3.146,"y":0.26},{"x":3.154,"y":0.08},{"x":3.162,"y":0.20},{"x":3.170,"y":0.36},{"x":3.178,"y":0.12},{"x":3.186,"y":0.24},{"x":3.194,"y":0.06},{"x":3.202,"y":0.16},{"x":3.210,"y":0.04},{"x":3.218,"y":0.14},{"x":3.226,"y":0.26},{"x":3.234,"y":0.10},{"x":3.242,"y":0.20},{"x":3.250,"y":0.06},{"x":3.258,"y":0.18},{"x":3.266,"y":0.30},{"x":3.274,"y":0.14},{"x":3.282,"y":0.47},{"x":3.290,"y":0.16},{"x":3.298,"y":0.24},{"x":3.306,"y":0.06},{"x":3.314,"y":0.12},{"x":3.322,"y":-0.02},{"x":3.330,"y":0.06},{"x":3.338,"y":-0.08},{"x":3.346,"y":-0.02},{"x":3.354,"y":-0.14},{"x":3.362,"y":-0.06},{"x":3.370,"y":-0.19},{"x":3.378,"y":-0.10},{"x":3.386,"y":-0.24},{"x":3.394,"y":-0.14},{"x":3.402,"y":-0.28},{"x":3.410,"y":-0.18},{"x":3.418,"y":-0.38},{"x":3.426,"y":-0.22},{"x":3.434,"y":-0.30},{"x":3.442,"y":-0.16},{"x":3.450,"y":-0.25},{"x":3.458,"y":-0.10},{"x":3.466,"y":-0.18},{"x":3.474,"y":-0.04},{"x":3.482,"y":-0.10},{"x":3.490,"y":0.02},{"x":3.498,"y":-0.04},{"x":3.506,"y":0.08},{"x":3.514,"y":0.00},{"x":3.522,"y":0.14},{"x":3.530,"y":0.04},{"x":3.538,"y":0.20},{"x":3.546,"y":0.08},{"x":3.554,"y":0.25},{"x":3.562,"y":0.10},{"x":3.570,"y":0.18},{"x":3.578,"y":0.06},{"x":3.586,"y":0.16},{"x":3.594,"y":0.04},{"x":3.602,"y":0.14},{"x":3.610,"y":0.26},{"x":3.618,"y":0.10},{"x":3.626,"y":0.22},{"x":3.634,"y":0.08},{"x":3.642,"y":0.38},{"x":3.650,"y":0.12},{"x":3.658,"y":0.24},{"x":3.666,"y":0.06},{"x":3.674,"y":0.16},{"x":3.682,"y":0.02},{"x":3.690,"y":0.12},{"x":3.698,"y":0.22},{"x":3.706,"y":0.06},{"x":3.714,"y":0.14},{"x":3.722,"y":0.00},{"x":3.730,"y":0.10},{"x":3.738,"y":-0.02},{"x":3.746,"y":0.08},{"x":3.754,"y":0.16},{"x":3.762,"y":0.04},{"x":3.770,"y":0.10},{"x":3.778,"y":0.02},{"x":3.786,"y":0.12},{"x":3.794,"y":0.20},{"x":3.802,"y":0.06},{"x":3.810,"y":0.14},{"x":3.818,"y":0.02},{"x":3.826,"y":0.10},{"x":3.834,"y":-0.02},{"x":3.842,"y":0.06},{"x":3.850,"y":0.14},{"x":3.858,"y":0.02},{"x":3.866,"y":0.08},{"x":3.874,"y":-0.04},{"x":3.882,"y":0.06},{"x":3.890,"y":-0.02},{"x":3.898,"y":0.04},{"x":3.906,"y":-0.08},{"x":3.914,"y":0.00},{"x":3.922,"y":-0.06},{"x":3.930,"y":0.04},{"x":3.938,"y":-0.04},{"x":3.946,"y":0.06},{"x":3.954,"y":-0.02},{"x":3.962,"y":0.02},{"x":3.970,"y":-0.08},{"x":3.978,"y":0.00},{"x":3.986,"y":-0.06},{"x":3.994,"y":-0.10},{"x":4.000,"y":-0.14}
]
},
"spacing": -2,
"hconcat": [
 {"spacing": -2, "vconcat": [
  {"width": 432, "height": 257,
   "title": {"text": "a)", "dx": -48, "offset": 3.5},
   "data": {"name": "a"},
   "mark": {"type": "line", "color": "#16167F", "strokeWidth": 2.4, "strokeJoin": "round"},
   "encoding": {
    "x": {"field": "x", "type": "quantitative", "scale": {"domain": [0, 4], "nice": false},
          "axis": {"values": [0,0.5,1,1.5,2,2.5,3,3.5,4], "labelExpr": "replace(format(datum.value,'.1f'),'\u2212','-')", "title": "Length (mm)", "labelFontSize": 15.5, "labelPadding": 11.5, "titlePadding": 0,
                   "gridColor": {"condition": {"test": "datum.value==0||datum.value==4", "value": "#555555"}, "value": "#3EC8E4"}}},
    "y": {"field": "y", "type": "quantitative", "scale": {"domain": [-4, 3], "nice": false, "zero": false},
          "axis": {"values": [-4,-3,-2,-1,0,1,2], "labelExpr": "replace(format(datum.value,'.1f'),'\u2212','-')", "title": "Surface roughness (µm)", "labelFontSize": 15.5, "labelPadding": 20, "titleX": -52, "titleY": 123,
                   "gridColor": {"condition": {"test": "datum.value==0||datum.value==-4", "value": "#333333"}, "value": "#3EC8E4"},
                   "gridWidth": {"condition": {"test": "datum.value==0", "value": 1.4}, "value": 1}}}
   }},
  {"width": 432, "height": 283,
   "title": {"text": "c)", "dx": -48, "offset": 0, "dy": 1},
   "data": {"name": "c"},
   "mark": {"type": "line", "color": "#16167F", "strokeWidth": 2.4, "strokeJoin": "round"},
   "encoding": {
    "x": {"field": "x", "type": "quantitative", "scale": {"domain": [0, 4], "nice": false},
          "axis": {"values": [0,0.5,1,1.5,2,2.5,3,3.5,4], "labelExpr": "replace(format(datum.value,'.1f'),'\u2212','-')", "title": "Length (mm)", "labelFontSize": 16.5, "labelPadding": 12.5, "titlePadding": 1,
                   "gridColor": {"condition": {"test": "datum.value==0||datum.value==4", "value": "#555555"}, "value": "#3EC8E4"}}},
    "y": {"field": "y", "type": "quantitative", "scale": {"domain": [-1.5, 3], "nice": false, "zero": false},
          "axis": {"values": [-1.5,-1,-0.5,0,0.5,1,1.5,2,2.5], "labelExpr": "replace(format(datum.value,'.1f'),'\u2212','-')", "title": "Surface roughness (µm)", "labelFontSize": 16.5, "labelPadding": 21, "titleX": -58, "titleY": 136,
                   "gridColor": {"condition": {"test": "datum.value==0||datum.value==-1.5", "value": "#333333"}, "value": "#3EC8E4"},
                   "gridWidth": {"condition": {"test": "datum.value==0", "value": 1.4}, "value": 1}}}
   }}
 ]},
 {"spacing": 3, "vconcat": [
  {"width": 392, "height": 261,
   "title": {"text": "b)", "dx": -46.5, "offset": 0, "dy": 12},
   "data": {"name": "b"},
   "mark": {"type": "line", "color": "#16167F", "strokeWidth": 2.4, "strokeJoin": "round"},
   "encoding": {
    "x": {"field": "x", "type": "quantitative", "scale": {"domain": [0, 4], "nice": false},
          "axis": {"values": [0,0.5,1,1.5,2,2.5,3,3.5,4], "labelExpr": "replace(format(datum.value,'.1f'),'\u2212','-')", "title": "Lengh (mm)", "labelFontSize": 15, "labelPadding": 11.5, "titlePadding": 2.5,
                   "gridColor": {"condition": {"test": "datum.value==0||datum.value==4", "value": "#555555"}, "value": "#3EC8E4"}}},
    "y": {"field": "y", "type": "quantitative", "scale": {"domain": [-1.5, 3], "nice": false, "zero": false},
          "axis": {"values": [-1.5,-1,-0.5,0,0.5,1,1.5,2,2.5], "labelExpr": "replace(format(datum.value,'.1f'),'\u2212','-')", "title": "Surface roughness (µm)", "labelFontSize": 15, "labelPadding": 19, "titleX": -51, "titleY": 124,
                   "gridColor": {"condition": {"test": "datum.value==0||datum.value==-1.5", "value": "#444444"}, "value": "#3EC8E4"},
                   "gridWidth": {"condition": {"test": "datum.value==0", "value": 1.4}, "value": 1}}}
   }},
  {"width": 396, "height": 273,
   "title": {"text": "d)", "dx": -37.5, "offset": 0, "dy": 0},
   "data": {"name": "d"},
   "mark": {"type": "line", "color": "#16167F", "strokeWidth": 2.4, "strokeJoin": "round"},
   "encoding": {
    "x": {"field": "x", "type": "quantitative", "scale": {"domain": [0, 4], "nice": false},
          "axis": {"values": [0,0.5,1,1.5,2,2.5,3,3.5,4], "labelExpr": "replace(format(datum.value,'.1f'),'\u2212','-')", "title": "Length (mm)", "labelFontSize": 16.5, "labelPadding": 12, "titlePadding": 0,
                   "gridColor": {"condition": {"test": "datum.value==0||datum.value==4", "value": "#555555"}, "value": "#3EC8E4"}}},
    "y": {"field": "y", "type": "quantitative", "scale": {"domain": [-1.5, 3], "nice": false, "zero": false},
          "axis": {"values": [-1.5,-1,-0.5,0,0.5,1,1.5,2,2.5], "labelExpr": "replace(format(datum.value,'.1f'),'\u2212','-')", "title": "Surface roughness (µm)", "labelFontSize": 16.5, "labelPadding": 21, "titleX": -48, "titleY": 127,
                   "gridColor": {"condition": {"test": "datum.value==0||datum.value==-1.5", "value": "#111111"}, "value": "#3EC8E4"},
                   "gridWidth": {"condition": {"test": "datum.value==0", "value": 1.4}, "value": 1}}}
   }}
 ]}
]
}
